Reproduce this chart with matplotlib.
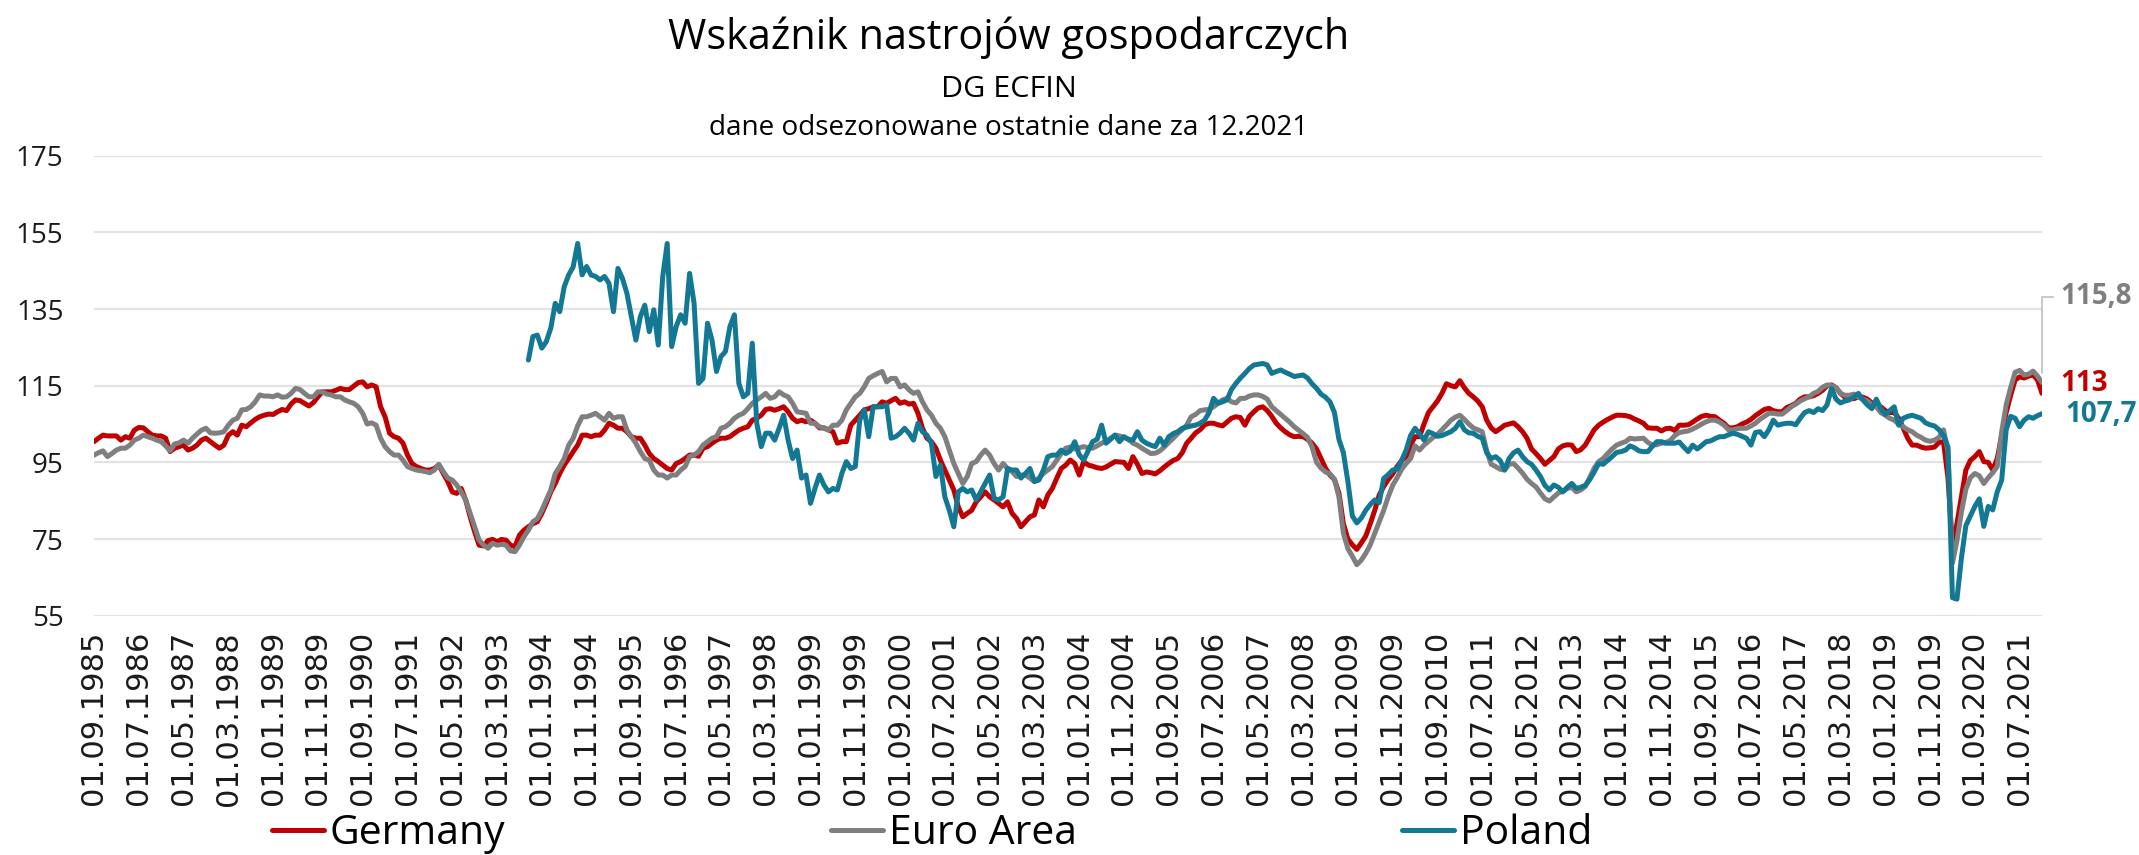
import numpy as np
import pandas as pd
import matplotlib
matplotlib.use('Agg')
import matplotlib.pyplot as plt
from matplotlib import font_manager

# ---------------- data ----------------
start_month = '1985-09-01'
poland_start = '1993-10-01'
series_names = ['Germany', 'Euro Area', 'Poland']
end_labels = ['113', '115,8', '107,7']

germany = [
    100.4, 101.3, 102.1, 101.9, 101.9, 101.9, 100.8, 101.7, 101.3, 103.4,
    104.1, 104.0, 103.0, 102.1, 101.9, 101.9, 101.3, 97.8, 98.7, 99.1,
    99.5, 98.2, 98.7, 99.5, 100.8, 101.3, 100.4, 99.5, 98.7, 99.5,
    102.1, 103.0, 102.1, 104.7, 104.3, 105.3, 106.2, 106.9, 107.3, 107.6,
    107.5, 108.2, 108.8, 108.5, 110.2, 111.3, 111.1, 110.4, 109.7, 110.6,
    112.1, 113.4, 113.4, 113.4, 113.8, 114.3, 114.0, 114.0, 114.9, 115.8,
    116.0, 114.7, 115.2, 114.7, 109.5, 106.9, 102.6, 101.7, 101.3, 100.0,
    96.9, 94.7, 93.9, 93.4, 93.0, 93.0, 93.4, 94.3, 92.1, 90.0,
    87.3, 86.9, 88.2, 85.2, 80.8, 76.9, 73.4, 73.2, 74.6, 74.9,
    74.3, 74.9, 74.7, 73.4, 73.0, 76.0, 77.3, 78.2, 79.0, 79.5,
    81.7, 84.3, 87.3, 89.5, 92.1, 94.3, 96.0, 97.8, 99.5, 102.1,
    102.1, 101.7, 102.1, 102.1, 103.4, 105.2, 104.7, 103.9, 103.9, 103.0,
    101.7, 101.3, 101.3, 99.5, 97.3, 96.0, 95.2, 94.3, 93.4, 93.0,
    94.7, 95.2, 96.0, 96.9, 96.9, 96.6, 98.7, 99.1, 100.0, 100.8,
    101.3, 101.3, 101.7, 102.6, 103.4, 103.9, 104.3, 106.0, 106.5, 107.3,
    108.8, 109.0, 108.6, 109.0, 109.5, 108.2, 106.5, 105.6, 106.0, 105.6,
    106.0, 105.2, 104.0, 104.0, 103.5, 103.0, 100.0, 100.4, 100.4, 104.7,
    106.0, 107.3, 108.7, 109.0, 109.5, 109.5, 110.8, 110.4, 111.1, 111.7,
    110.4, 110.8, 110.2, 110.4, 107.8, 103.9, 101.3, 100.4, 98.7, 95.6,
    93.0, 90.4, 87.8, 83.4, 80.8, 81.7, 82.5, 84.7, 86.0, 87.3,
    86.0, 85.2, 84.3, 83.4, 84.7, 81.7, 80.4, 78.2, 79.5, 80.8,
    81.3, 85.2, 83.4, 86.5, 88.2, 90.9, 93.4, 94.3, 95.6, 94.7,
    91.7, 95.2, 94.3, 94.0, 93.6, 93.4, 93.8, 94.5, 95.2, 95.1,
    95.0, 93.4, 96.5, 94.5, 92.1, 92.5, 92.3, 92.0, 92.8, 93.8,
    94.7, 95.5, 96.0, 97.5, 100.0, 101.3, 102.7, 103.5, 104.8, 105.2,
    105.2, 104.8, 104.5, 105.5, 106.5, 106.9, 106.7, 104.7, 107.0, 108.2,
    109.2, 109.5, 108.5, 107.0, 105.2, 104.0, 103.0, 102.2, 101.7, 101.8,
    101.7, 101.0, 100.0, 98.5, 96.0, 93.5, 91.7, 90.5, 87.0, 79.0,
    75.0, 73.5, 72.3, 74.0, 75.8, 79.0, 82.5, 86.5, 88.7, 90.5,
    92.0, 93.9, 95.5, 96.5, 99.5, 101.7, 101.7, 105.0, 108.0, 109.5,
    111.0, 113.0, 115.5, 115.0, 114.7, 116.3, 114.5, 113.0, 112.1, 111.0,
    109.5, 106.0, 104.0, 103.0, 103.8, 104.7, 105.0, 105.3, 104.3, 103.0,
    101.3, 98.5, 97.3, 96.0, 94.5, 95.5, 96.5, 98.5, 99.3, 99.6,
    99.5, 97.8, 98.3, 99.5, 101.5, 103.5, 104.7, 105.5, 106.2, 106.8,
    107.3, 107.3, 107.2, 106.9, 106.3, 105.8, 105.2, 104.0, 103.9, 103.9,
    103.2, 103.8, 103.9, 103.3, 104.7, 104.7, 104.8, 105.5, 106.3, 107.0,
    107.3, 107.0, 106.9, 106.0, 105.2, 104.0, 104.0, 104.3, 105.0, 105.5,
    106.2, 107.2, 108.0, 108.8, 109.1, 108.5, 108.2, 108.2, 109.3, 109.8,
    110.4, 111.5, 112.1, 112.1, 112.4, 113.0, 113.8, 115.0, 115.2, 114.5,
    113.0, 112.0, 111.7, 111.6, 112.1, 112.0, 111.5, 110.5, 110.0, 109.5,
    108.5, 108.0, 108.0, 106.5, 104.0, 101.3, 99.5, 99.5, 99.0, 98.7,
    98.8, 99.0, 100.2, 100.4, 91.0, 73.0, 79.0, 86.0, 93.0, 95.5,
    96.5, 97.8, 95.2, 95.0, 93.0, 96.0, 102.0, 108.0, 112.5, 116.5,
    117.3, 117.0, 117.5, 117.8, 116.5, 113.0,
]

euro_area = [
    96.9, 97.5, 98.0, 96.5, 97.3, 98.2, 98.7, 98.7, 99.5, 100.8,
    101.3, 102.1, 101.7, 101.3, 100.8, 100.4, 99.3, 98.0, 99.8, 100.1,
    100.8, 100.0, 101.3, 102.4, 103.4, 103.9, 102.7, 102.6, 102.7, 103.0,
    104.7, 106.0, 106.5, 108.7, 108.8, 109.5, 110.8, 112.6, 112.3, 112.3,
    112.1, 112.6, 112.0, 112.1, 113.0, 114.3, 114.0, 113.0, 112.1, 112.1,
    113.4, 113.4, 112.8, 112.6, 112.1, 112.1, 111.3, 110.8, 110.4, 109.5,
    107.8, 105.0, 105.3, 104.7, 101.3, 99.1, 97.8, 96.9, 96.9, 95.6,
    93.9, 93.4, 93.0, 92.8, 92.6, 92.3, 93.0, 94.5, 92.6, 90.9,
    90.4, 89.1, 87.3, 85.2, 81.7, 78.2, 74.7, 73.4, 72.6, 73.9,
    73.4, 73.6, 73.4, 71.9, 71.7, 73.4, 75.6, 77.3, 79.5, 80.3,
    82.5, 85.2, 87.8, 92.1, 93.9, 96.0, 99.5, 101.3, 104.5, 106.9,
    106.9, 107.3, 107.8, 106.9, 106.0, 107.8, 106.5, 106.9, 106.9, 103.4,
    101.7, 100.0, 97.8, 96.0, 95.6, 93.0, 91.7, 91.7, 90.9, 91.7,
    91.7, 93.0, 93.9, 96.5, 96.9, 97.8, 99.5, 100.4, 101.3, 101.7,
    103.9, 104.3, 105.2, 106.5, 107.3, 107.8, 109.0, 110.4, 111.3, 112.1,
    113.0, 111.7, 112.1, 113.4, 112.6, 112.1, 110.4, 108.2, 108.0, 107.8,
    105.2, 105.2, 104.3, 103.9, 103.4, 104.7, 104.7, 106.0, 108.7, 110.4,
    112.1, 113.0, 114.7, 116.9, 117.6, 118.2, 118.7, 116.0, 116.9, 116.9,
    114.7, 115.2, 113.9, 113.0, 113.4, 110.8, 108.7, 107.3, 105.2, 103.9,
    101.7, 98.2, 94.7, 92.1, 89.5, 91.3, 94.7, 95.2, 96.9, 98.2,
    96.9, 94.7, 93.0, 94.7, 93.4, 92.6, 91.3, 91.7, 91.7, 90.9,
    90.0, 90.9, 92.1, 93.0, 93.9, 95.6, 97.3, 98.7, 99.0, 98.5,
    98.8, 99.1, 98.8, 98.7, 99.3, 100.0, 100.5, 101.3, 102.1, 101.9,
    101.5, 101.0, 100.0, 99.5, 98.7, 98.0, 97.3, 97.4, 98.0, 99.0,
    100.2, 101.3, 102.5, 103.5, 104.7, 106.9, 107.5, 108.5, 108.7, 108.8,
    109.5, 110.4, 111.3, 111.7, 110.8, 110.5, 111.7, 111.7, 112.3, 112.6,
    112.6, 112.2, 111.5, 109.5, 108.5, 107.5, 106.5, 105.5, 104.3, 103.4,
    102.5, 101.5, 99.0, 95.0, 93.5, 92.5, 92.0, 90.6, 86.0, 76.5,
    72.5, 70.5, 68.3, 69.5, 71.3, 73.5, 76.5, 79.5, 82.5, 86.0,
    89.0, 91.0, 93.2, 94.7, 96.0, 99.3, 98.2, 99.5, 100.5, 101.5,
    102.3, 103.5, 104.7, 106.0, 106.8, 107.3, 106.2, 105.0, 104.0, 103.5,
    103.0, 98.0, 94.5, 93.9, 93.2, 93.0, 94.5, 94.7, 93.5, 92.2,
    90.6, 89.5, 88.6, 87.0, 85.5, 84.9, 86.0, 87.0, 87.5, 88.2,
    88.5, 87.3, 87.8, 88.7, 91.0, 93.5, 95.2, 96.0, 97.3, 98.5,
    99.5, 100.0, 100.4, 101.3, 101.1, 101.2, 101.3, 100.2, 99.5, 99.6,
    100.0, 100.2, 100.7, 102.0, 102.8, 103.0, 103.2, 103.7, 104.3, 105.0,
    105.6, 106.0, 106.0, 105.5, 104.7, 103.5, 103.5, 103.8, 103.9, 103.9,
    104.5, 105.2, 106.2, 107.0, 107.8, 107.8, 107.6, 107.6, 108.5, 109.5,
    110.2, 111.0, 111.6, 112.1, 113.0, 113.5, 114.6, 115.2, 115.0, 114.5,
    113.0, 112.5, 112.5, 112.8, 112.0, 111.5, 111.0, 110.0, 109.5, 108.0,
    107.3, 106.5, 106.0, 105.0, 104.3, 103.5, 103.0, 102.1, 101.5, 100.8,
    100.5, 100.8, 101.5, 103.5, 98.0, 68.7, 74.5, 82.0, 88.0, 91.0,
    92.1, 91.5, 89.5, 91.0, 92.3, 93.9, 103.0, 110.0, 114.5, 118.5,
    119.0, 117.8, 118.0, 118.8, 117.5, 115.8,
]

poland = [
    121.7, 127.8, 128.2,
    124.8, 126.5, 130.0, 136.5, 134.3, 140.8, 143.9, 146.0, 152.1, 143.9,
    146.1, 143.9, 143.5, 142.6, 143.5, 141.7, 134.3, 145.6, 143.0, 139.1,
    133.0, 126.9, 133.0, 136.0, 129.1, 134.8, 125.6, 143.5, 152.1, 125.2,
    130.4, 133.5, 131.3, 144.3, 136.5, 115.6, 116.9, 131.3, 126.9, 118.7,
    122.6, 123.9, 130.4, 133.5, 115.6, 112.1, 113.0, 126.1, 105.2, 99.1,
    102.6, 102.6, 100.8, 103.9, 107.3, 100.8, 96.0, 98.2, 90.9, 91.7,
    84.3, 88.2, 91.7, 89.1, 87.3, 88.2, 87.8, 92.1, 95.2, 93.4,
    93.9, 106.0, 108.7, 101.7, 109.5, 109.5, 109.5, 110.0, 101.3, 101.7,
    102.6, 103.9, 102.6, 100.8, 105.2, 103.0, 102.1, 100.0, 91.3, 94.3,
    86.0, 82.5, 78.2, 87.3, 88.2, 87.3, 87.8, 85.2, 87.3, 89.5,
    91.7, 85.6, 85.2, 86.0, 93.4, 93.0, 93.0, 90.9, 92.1, 93.4,
    90.0, 90.4, 93.0, 96.5, 96.9, 96.9, 98.2, 97.3, 98.0, 100.4,
    97.0, 95.6, 98.0, 100.4, 101.0, 104.7, 100.0, 101.0, 102.1, 100.4,
    101.7, 101.0, 100.8, 103.0, 100.8, 100.0, 99.5, 99.1, 101.3, 99.5,
    101.7, 102.5, 103.0, 103.9, 104.2, 104.5, 104.7, 105.2, 106.0, 108.0,
    111.7, 110.4, 110.8, 111.3, 114.0, 115.6, 117.0, 118.2, 119.5, 120.4,
    120.6, 120.8, 120.4, 118.2, 118.7, 119.1, 118.5, 118.0, 117.4, 117.6,
    117.8, 117.0, 115.5, 114.3, 112.8, 112.0, 110.8, 108.0, 101.0, 97.5,
    90.0, 81.0, 79.2, 80.5, 82.5, 84.0, 85.2, 84.5, 90.8, 91.8,
    93.0, 93.2, 95.5, 98.2, 102.0, 103.9, 102.5, 100.8, 103.0, 102.5,
    101.8, 102.0, 102.5, 103.0, 103.9, 105.6, 103.5, 102.7, 102.6, 101.8,
    101.3, 97.5, 96.0, 96.5, 95.5, 93.0, 96.0, 97.5, 98.2, 96.5,
    95.2, 94.5, 93.0, 91.3, 89.0, 87.8, 89.1, 88.5, 87.3, 88.5,
    89.5, 88.2, 88.5, 89.0, 90.5, 92.5, 94.7, 94.5, 95.5, 96.5,
    97.6, 97.8, 98.2, 99.3, 98.8, 98.0, 97.8, 97.8, 99.2, 100.4,
    100.4, 100.0, 100.0, 100.0, 100.3, 99.0, 97.8, 99.5, 98.5, 99.4,
    100.4, 100.6, 101.2, 101.7, 101.7, 102.2, 102.6, 102.3, 101.8, 101.3,
    99.5, 102.8, 103.0, 101.7, 103.5, 106.0, 104.7, 105.0, 105.2, 105.2,
    104.8, 106.5, 108.0, 108.5, 108.0, 109.0, 108.5, 110.0, 114.3, 111.5,
    110.5, 111.0, 111.3, 112.0, 113.0, 111.3, 110.0, 109.0, 111.5, 109.0,
    107.5, 108.5, 109.5, 104.7, 106.5, 107.0, 107.3, 106.9, 106.5, 105.3,
    104.8, 104.5, 103.5, 102.0, 99.0, 59.7, 59.3, 70.0, 78.5, 81.0,
    83.5, 85.5, 78.3, 83.5, 82.6, 87.3, 90.4, 103.5, 107.0, 106.5,
    104.3, 106.0, 106.9, 106.5, 107.2, 107.7,
]

# ---------------- style ----------------
W, H, DPI = 2139, 855, 100
colors = ['#C00000', '#7F7F7F', '#127893']

names = {f.name for f in font_manager.fontManager.ttflist}
title_font = 'Liberation Sans Narrow' if 'Liberation Sans Narrow' in names else 'Open Sans'
num_font = 'Open Sans'
tick_font = 'DejaVu Sans'

fig = plt.figure(figsize=(W / DPI, H / DPI), dpi=DPI)
renderer = fig.canvas.get_renderer()


def fit_size(text, family, target_px, weight='normal'):
    t = fig.text(0, 0, text, fontsize=20, family=family, weight=weight)
    w = t.get_window_extent(renderer).width
    t.remove()
    return 20 * target_px / w


ax_left, ax_right = 94, 2042
ax_top, ax_bottom = 155.7, 615.7
ax = fig.add_axes([ax_left / W, 1 - ax_bottom / H,
                   (ax_right - ax_left) / W, (ax_bottom - ax_top) / H])

dates = pd.date_range(start_month, periods=len(germany), freq='MS')
x = np.arange(len(dates))
p0 = dates.get_loc(pd.Timestamp(poland_start))
pol_full = np.full(len(dates), np.nan)
pol_full[p0:p0 + len(poland)] = poland

series = [np.array(germany), np.array(euro_area), pol_full]
lines = []
for vals, c, name in zip(series, colors, series_names):
    ln, = ax.plot(x, vals, color=c, lw=3.6, label=name,
                  solid_capstyle='round', solid_joinstyle='round')
    lines.append(ln)

ax.set_xlim(0, len(dates) - 1)
ax.set_ylim(55, 175)
ax.set_yticks(np.arange(55, 176, 20))
ax.set_xticks(x[::10])
ax.set_xticklabels(dates[::10].strftime('%d.%m.%Y'), rotation=90,
                   fontsize=22, family=tick_font, color='#1a1a1a')
for lab in ax.get_yticklabels():
    lab.set_family(num_font)
ax.tick_params(axis='y', labelsize=20, pad=22, length=0, colors='#1a1a1a')
ax.tick_params(axis='x', pad=11, length=0)
ax.yaxis.grid(True, color='#E3E3E3', lw=1.6)
ax.set_axisbelow(True)
for s in ax.spines.values():
    s.set_visible(False)

# end labels
end_offsets = [(18, 10), (18, 86), (23, -1)]
last_vals = [germany[-1], euro_area[-1], poland[-1]]
for lab, c, v, off in zip(end_labels, colors, last_vals, end_offsets):
    kw = {}
    if lab == '115,8':
        kw = dict(arrowprops=dict(arrowstyle='-', color='#C8C8C8', lw=1.4,
                                  connectionstyle='angle,angleA=0,angleB=90,rad=0',
                                  relpos=(0, 0.5), shrinkA=3, shrinkB=7))
    ax.annotate(lab, xy=(x[-1], v), xytext=off, textcoords='offset pixels',
                ha='left', va='center', color=c, fontsize=20,
                fontweight='bold', family=num_font, annotation_clip=False, **kw)

# titles
fs_title = fit_size('Wskaźnik nastrojów gospodarczych', title_font, 682)
fs_dg = fit_size('DG ECFIN', title_font, 136)
fs_sub = fit_size('dane odsezonowane ostatnie dane za 12.2021', title_font, 597)
cx = 1009 / W
fig.text(cx, 1 - 49 / H, 'Wskaźnik nastrojów gospodarczych', ha='center',
         va='baseline', fontsize=fs_title, family=title_font, color='black')
fig.text(cx, 1 - 97 / H, 'DG ECFIN', ha='center', va='baseline',
         fontsize=fs_dg, family=title_font, color='black')
fig.text(cx, 1 - 135 / H, 'dane odsezonowane ostatnie dane za 12.2021',
         ha='center', va='baseline', fontsize=fs_sub, family=title_font,
         color='black')

# legend
fs_leg = fit_size('Germany', title_font, 175)
leg_px = fs_leg * DPI / 72
fig.legend(handles=lines, labels=series_names, loc='center',
           bbox_to_anchor=(932 / W, 1 - 834 / H), ncol=3, frameon=False,
           prop={'family': title_font, 'size': fs_leg},
           handlelength=52 / leg_px, handletextpad=6 / leg_px,
           columnspacing=325 / leg_px, borderaxespad=0, borderpad=0)

fig.savefig('out.png', dpi=DPI)
